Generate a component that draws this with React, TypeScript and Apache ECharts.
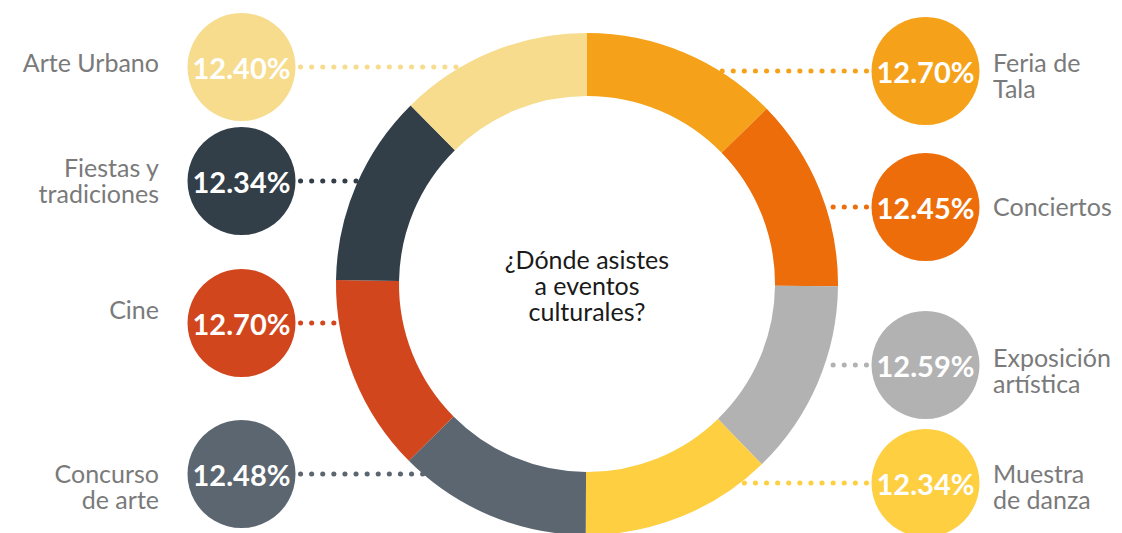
import React, { useEffect, useRef } from "react";
import * as echarts from "echarts";

// Data
const categories = [
  "Feria de\nTala",
  "Conciertos",
  "Exposición\nartística",
  "Muestra\nde danza",
  "Concurso\nde arte",
  "Cine",
  "Fiestas y\ntradiciones",
  "Arte Urbano",
];
const values = [12.7, 12.45, 12.59, 12.34, 12.48, 12.7, 12.34, 12.4];
const colors = [
  "#F5A21A",
  "#EC6D09",
  "#B2B2B2",
  "#FDCF41",
  "#5B6670",
  "#D2461E",
  "#323E48",
  "#F6DC8C",
];
const centerTitle = "¿Dónde asistes\na eventos\nculturales?";

// Layout (positions of label bubbles)
const layout = [
  { side: "right", cy: 71, ly: 75 },
  { side: "right", cy: 207, ly: 206 },
  { side: "right", cy: 365, ly: 370 },
  { side: "right", cy: 483, ly: 486 },
  { side: "left", cy: 474, ly: 486 },
  { side: "left", cy: 323, ly: 309 },
  { side: "left", cy: 181, ly: 180 },
  { side: "left", cy: 67, ly: 62 },
];

const W = 1122;
const H = 533;
const CX = 587;
const CY = 284;
const RO = 251;
const RI = 188;
const BUBBLE_R = 54;
const LEFT_BX = 241.5;
const RIGHT_BX = 925.5;
const FONT = "Lato, 'Open Sans', sans-serif";

export default function App() {
  const ref = useRef<HTMLDivElement>(null);

  useEffect(() => {
    if (!ref.current) return;
    const chart = echarts.init(ref.current, null, { renderer: "svg" });

    const graphics: any[] = [];
    values.forEach((v, i) => {
      const L = layout[i];
      const isLeft = L.side === "left";
      const bx = isLeft ? LEFT_BX : RIGHT_BX;
      const lineY = L.cy;
      const dy = lineY - CY;
      const dx = Math.sqrt(Math.max(0, RO * RO - dy * dy));
      const donutX = isLeft ? CX - dx : CX + dx;
      const startX = isLeft ? bx + BUBBLE_R + 5 : bx - BUBBLE_R - 5;
      graphics.push({
        type: "line",
        z: 1,
        shape: { x1: startX, y1: lineY, x2: donutX, y2: lineY },
        style: {
          stroke: colors[i],
          lineWidth: 5,
          lineDash: [0.1, 11],
          lineCap: "round",
        },
      });
      graphics.push({
        type: "circle",
        z: 2,
        shape: { cx: bx, cy: L.cy, r: BUBBLE_R },
        style: { fill: colors[i] },
      });
      graphics.push({
        type: "text",
        z: 3,
        x: bx,
        y: L.cy,
        style: {
          text: v.toFixed(2) + "%",
          fill: "#ffffff",
          fontFamily: FONT,
          fontWeight: "bold",
          fontSize: 29,
          align: "center",
          verticalAlign: "middle",
        },
      });
      graphics.push({
        type: "text",
        z: 3,
        x: isLeft ? 159 : 993,
        y: L.ly,
        style: {
          text: categories[i],
          fill: "#7a7a7a",
          fontFamily: FONT,
          fontSize: 25,
          lineHeight: 26,
          align: isLeft ? "right" : "left",
          verticalAlign: "middle",
        },
      });
    });

    graphics.push({
      type: "text",
      z: 3,
      x: CX,
      y: 285,
      style: {
        text: centerTitle,
        fill: "#1a1a1a",
        fontFamily: FONT,
        fontSize: 25,
        lineHeight: 26,
        align: "center",
        verticalAlign: "middle",
      },
    });

    chart.setOption({
      animation: false,
      backgroundColor: "#ffffff",
      series: [
        {
          type: "pie",
          center: [CX, CY],
          radius: [RI, RO],
          startAngle: 90,
          clockwise: true,
          silent: true,
          z: 5,
          label: { show: false },
          labelLine: { show: false },
          data: categories.map((c, i) => ({
            name: c.replace("\n", " "),
            value: values[i],
            itemStyle: { color: colors[i] },
          })),
        },
      ],
      graphic: graphics,
    });

    return () => chart.dispose();
  }, []);

  return (
    <div
      ref={ref}
      style={{ position: "fixed", left: 0, top: 0, width: W, height: H }}
    />
  );
}
